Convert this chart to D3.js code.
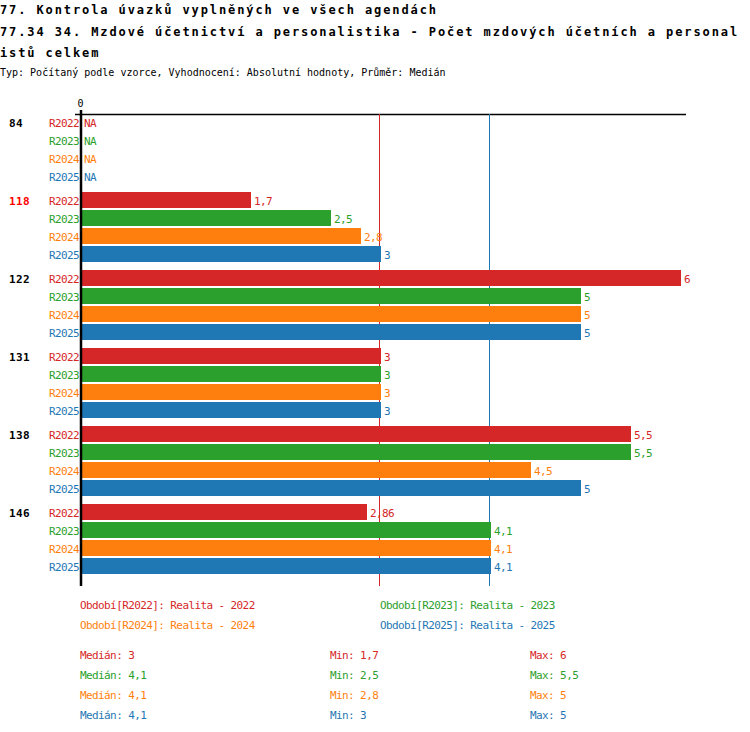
<!DOCTYPE html>
<html>
<head>
<meta charset="utf-8">
<script src="https://cdn.jsdelivr.net/npm/d3@7"></script>
<style>
  body { margin: 0; background: #fff; }
  svg text { font-family: "DejaVu Sans Mono", monospace; }
</style>
</head>
<body>
<svg id="chart" width="750" height="732"></svg>
<script>
// ---- data ----
const titleLines = [
  "77. Kontrola úvazků vyplněných ve všech agendách",
  "77.34 34. Mzdové účetnictví a personalistika - Počet mzdových účetních a personal",
  "istů celkem"
];
const subtitle = "Typ: Počítaný podle vzorce, Vyhodnocení: Absolutní hodnoty, Průměr: Medián";
const groups = ["84", "118", "122", "131", "138", "146"];
const highlightGroup = "118";
const seriesNames = ["R2022", "R2023", "R2024", "R2025"];
const seriesLegend = ["Období[R2022]: Realita - 2022", "Období[R2023]: Realita - 2023",
                      "Období[R2024]: Realita - 2024", "Období[R2025]: Realita - 2025"];
const colors = ["#d62728", "#2ca02c", "#ff7f0e", "#1f77b4"];
// values per series, one per group (null = NA)
const r2022 = [null, 1.7, 6, 3, 5.5, 2.86];
const r2023 = [null, 2.5, 5, 3, 5.5, 4.1];
const r2024 = [null, 2.8, 5, 3, 4.5, 4.1];
const r2025 = [null, 3, 5, 3, 5, 4.1];
const seriesValues = [r2022, r2023, r2024, r2025];
const xTicks = [0];

// ---- layout ----
const svg = d3.select("#chart");
const fmt = v => String(v).replace(".", ",");
const x = d3.scaleLinear().domain([0, 6]).range([81, 681]);
const groupBand = d3.scaleBand().domain(groups).range([114, 114 + 78 * groups.length]).paddingInner(0).paddingOuter(0);
const rowBand = d3.scaleBand().domain(seriesNames).range([0, 72]).paddingInner(2 / 18).paddingOuter(0);
// custom row offsets: 16px bars every 18px
const rowY = (i) => i * 18;
const barH = 16;

// titles
svg.selectAll("text.title").data(titleLines).join("text")
  .attr("class", "title")
  .attr("x", 0).attr("y", (d, i) => [14, 35.5, 57][i])
  .attr("font-size", 12).attr("font-weight", "bold")
  .attr("letter-spacing", 1.9)
  .attr("fill", "#000")
  .text(d => d);
svg.append("text").attr("x", 0).attr("y", 75.5)
  .attr("font-size", 10).attr("fill", "#000").text(subtitle);

const plotBottom = 114 + 78 * groups.length - 2;

// top axis
const axisG = svg.append("g").attr("transform", "translate(0,114.5)");
axisG.append("line").attr("x1", 75).attr("x2", 686).attr("y1", 0).attr("y2", 0)
  .attr("stroke", "#000").attr("stroke-width", 1.5);
axisG.selectAll("text.tick").data(xTicks).join("text")
  .attr("x", d => x(d) - 0.5).attr("y", -8).attr("text-anchor", "middle")
  .attr("font-size", 10).attr("fill", "#000").text(d => d);

// median lines
const medians = seriesValues.map(s => d3.median(s.filter(v => v != null)));
const mins = seriesValues.map(s => d3.min(s.filter(v => v != null)));
const maxs = seriesValues.map(s => d3.max(s.filter(v => v != null)));
svg.selectAll("line.median").data(medians).join("line")
  .attr("class", "median")
  .attr("x1", d => x(d) - 1.5).attr("x2", d => x(d) - 1.5)
  .attr("y1", 114).attr("y2", plotBottom + 6)
  .attr("stroke", (d, i) => colors[i]).attr("stroke-width", 1);

// groups
const g = svg.selectAll("g.grp").data(groups).join("g")
  .attr("class", "grp")
  .attr("transform", d => `translate(0,${groupBand(d)})`);

g.append("text")
  .attr("x", 9).attr("y", 13)
  .attr("font-size", 11).attr("font-weight", "bold")
  .attr("letter-spacing", 0.4)
  .attr("fill", d => d === highlightGroup ? "#ff0000" : "#000")
  .text(d => d);

g.each(function (grp, gi) {
  const sel = d3.select(this);
  seriesNames.forEach((s, si) => {
    const v = seriesValues[si][gi];
    const y0 = rowY(si);
    sel.append("text")
      .attr("x", 79).attr("y", y0 + 13).attr("text-anchor", "end")
      .attr("font-size", 11).attr("letter-spacing", -0.6)
      .attr("fill", colors[si]).text(s);
    if (v != null) {
      sel.append("rect")
        .attr("x", x(0) + 1).attr("y", y0)
        .attr("width", x(v) - x(0) - 1).attr("height", barH)
        .attr("fill", colors[si]);
    }
    sel.append("text")
      .attr("x", v != null ? x(v) + 3 : x(0) + 3).attr("y", y0 + 13)
      .attr("font-size", 11).attr("letter-spacing", -0.6)
      .attr("fill", colors[si]).text(v != null ? fmt(v) : "NA");
  });
});

// zero axis line (on top)
svg.append("line").attr("x1", x(0)).attr("x2", x(0))
  .attr("y1", 110).attr("y2", plotBottom + 6)
  .attr("stroke", "#000").attr("stroke-width", 2.5);

// legend
const legX = [80, 380, 80, 380];
const legY = [608.5, 608.5, 628.5, 628.5];
svg.selectAll("text.leg").data(seriesLegend).join("text")
  .attr("class", "leg")
  .attr("x", (d, i) => legX[i]).attr("y", (d, i) => legY[i])
  .attr("font-size", 11).attr("letter-spacing", -0.6)
  .attr("fill", (d, i) => colors[i]).text(d => d);

// stats
const statY = i => 658.5 + i * 20;
seriesNames.forEach((s, i) => {
  svg.append("text").attr("x", 80).attr("y", statY(i))
    .attr("font-size", 11).attr("letter-spacing", -0.6)
    .attr("fill", colors[i]).text("Medián: " + fmt(medians[i]));
  svg.append("text").attr("x", 330).attr("y", statY(i))
    .attr("font-size", 11).attr("letter-spacing", -0.6)
    .attr("fill", colors[i]).text("Min: " + fmt(mins[i]));
  svg.append("text").attr("x", 530).attr("y", statY(i))
    .attr("font-size", 11).attr("letter-spacing", -0.6)
    .attr("fill", colors[i]).text("Max: " + fmt(maxs[i]));
});
</script>
</body>
</html>
